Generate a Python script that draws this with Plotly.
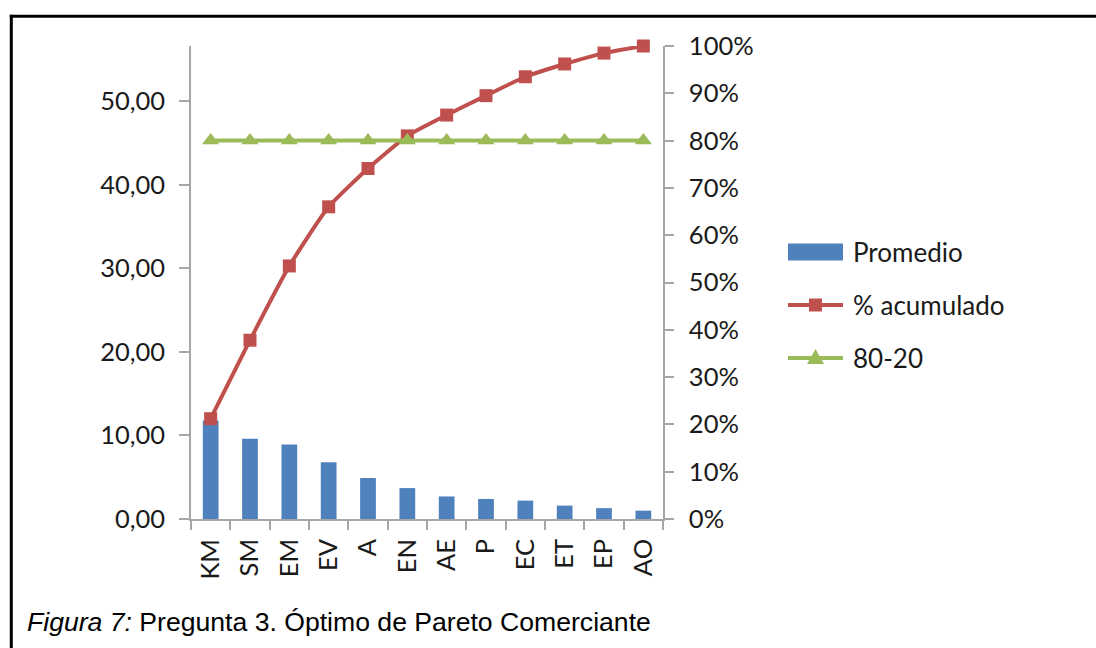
import plotly.graph_objects as go

# Pareto data
categorias = ["KM", "SM", "EM", "EV", "A", "EN", "AE", "P", "EC", "ET", "EP", "AO"]
promedio = [11.8, 9.6, 8.9, 6.8, 4.9, 3.7, 2.7, 2.4, 2.2, 1.6, 1.3, 1.0]
acumulado = [21.2, 37.8, 53.5, 66.0, 74.1, 81.0, 85.4, 89.5, 93.5, 96.2, 98.5, 100.0]
linea_80_20 = [80, 80, 80, 80, 80, 80, 80, 80, 80, 80, 80, 80]

# Figure geometry (pixels)
W, H = 1096, 648
PL, PR, PT, PB = 191, 663, 46, 519

AZUL = "#4F81BD"
ROJO = "#C0504D"
VERDE = "#9BBB59"
EJE = "#A6A6A6"
TEXTO = "#1a1a1a"
FUENTE = "Lato"
TAM = 25.5


def px(x):
    return (x - PL) / (PR - PL)


def py(y):
    return (PB - y) / (PB - PT)


fig = go.Figure()

fig.add_trace(go.Bar(
    x=categorias, y=promedio, name="Promedio",
    marker=dict(color=AZUL, line=dict(width=0)), width=0.4,
))
fig.add_trace(go.Scatter(
    x=categorias, y=acumulado, name="% acumulado", yaxis="y2",
    mode="lines+markers", cliponaxis=False,
    line=dict(color=ROJO, width=4, shape="spline", smoothing=0.5),
    marker=dict(symbol="square", size=13, color=ROJO),
))
fig.add_trace(go.Scatter(
    x=categorias, y=linea_80_20, name="80-20", yaxis="y2",
    mode="lines+markers", cliponaxis=False,
    line=dict(color=VERDE, width=4),
    marker=dict(symbol="triangle-up", size=15, color=VERDE),
))

tick_font = dict(family=FUENTE, size=TAM, color=TEXTO)

shapes = []
annotations = []

# Legend drawn in the right-hand area
leg_x0, leg_x1, leg_text = 788, 843, 851
leg_rows = [252, 305, 358]
shapes.append(dict(type="rect", xref="paper", yref="paper",
                   x0=px(leg_x0), x1=px(leg_x1), y0=py(260.5), y1=py(243.5),
                   fillcolor=AZUL, line=dict(width=0), layer="above"))
for yy, col in ((leg_rows[1], ROJO), (leg_rows[2], VERDE)):
    shapes.append(dict(type="line", xref="paper", yref="paper",
                       x0=px(leg_x0), x1=px(leg_x1), y0=py(yy), y1=py(yy),
                       line=dict(color=col, width=4), layer="above"))
cx = (leg_x0 + leg_x1) / 2
s = 6.5
yy = leg_rows[1]
shapes.append(dict(type="path", xref="paper", yref="paper",
                   path=f"M{px(cx - s)},{py(yy - s)} L{px(cx + s)},{py(yy - s)} "
                        f"L{px(cx + s)},{py(yy + s)} L{px(cx - s)},{py(yy + s)} Z",
                   fillcolor=ROJO, line=dict(width=0), layer="above"))
yy = leg_rows[2]
shapes.append(dict(type="path", xref="paper", yref="paper",
                   path=f"M{px(cx - 8.5)},{py(yy + 6)} L{px(cx + 8.5)},{py(yy + 6)} "
                        f"L{px(cx)},{py(yy - 9)} Z",
                   fillcolor=VERDE, line=dict(width=0), layer="above"))
for yy, txt in zip(leg_rows, ["Promedio", "% acumulado", "80-20"]):
    annotations.append(dict(xref="paper", yref="paper", x=px(leg_text), y=py(yy),
                            xanchor="left", yanchor="middle", showarrow=False,
                            text=txt, font=dict(family=FUENTE, size=26, color=TEXTO)))

# Frame (top and left rules)
shapes.append(dict(type="line", xref="paper", yref="paper",
                   x0=px(9.8), x1=px(1110), y0=py(16.3), y1=py(16.3),
                   line=dict(color="black", width=3), layer="above"))
shapes.append(dict(type="line", xref="paper", yref="paper",
                   x0=px(11.3), x1=px(11.3), y0=py(14.8), y1=py(670),
                   line=dict(color="black", width=3), layer="above"))

# Caption
annotations.append(dict(xref="paper", yref="paper", x=px(25), y=py(622),
                        xanchor="left", yanchor="middle", showarrow=False,
                        text="<i>Figura 7:</i> Pregunta 3. Óptimo de Pareto Comerciante",
                        font=dict(family="Liberation Sans, Arial", size=26.6, color="black")))

fig.update_layout(
    width=W, height=H, autosize=False,
    margin=dict(l=PL, r=W - PR, t=PT, b=H - PB, pad=0),
    paper_bgcolor="white", plot_bgcolor="white",
    separators=",.",
    showlegend=False,
    font=dict(family=FUENTE, color=TEXTO),
    xaxis=dict(
        type="category", showline=True, linecolor=EJE, linewidth=1.5,
        ticks="outside", ticklen=9, tickcolor=EJE, tickwidth=1.5,
        tickson="boundaries", tickangle=-90, tickfont=tick_font,
        ticklabelstandoff=8,
        showgrid=False, zeroline=False, range=[-0.5, 11.5],
    ),
    yaxis=dict(
        range=[0, 56.6], tick0=0, dtick=10, tickformat=".2f",
        showline=True, linecolor=EJE, linewidth=1.5,
        ticks="outside", ticklen=10, tickcolor=EJE, tickwidth=1.5,
        ticklabelstandoff=9,
        tickfont=tick_font, showgrid=False, zeroline=False,
    ),
    yaxis2=dict(
        overlaying="y", side="right", range=[0, 100], tick0=0, dtick=10,
        ticksuffix="%", showline=True, linecolor=EJE, linewidth=1.5,
        ticks="outside", ticklen=9, tickcolor=EJE, tickwidth=1.5,
        ticklabelstandoff=10,
        tickfont=tick_font, showgrid=False, zeroline=False,
    ),
    shapes=shapes,
    annotations=annotations,
)

fig.write_html("out.html")
